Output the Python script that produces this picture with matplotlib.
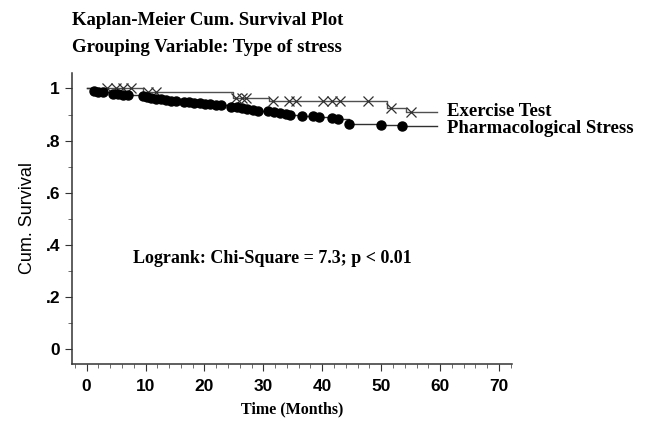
import numpy as np
import matplotlib.pyplot as plt
from matplotlib.ticker import MultipleLocator

# Exercise Test: step drops and censored times
ex_drop_t = [9.5, 24.8, 31.0, 51.0, 54.2]
ex_drop_s = [0.985, 0.965, 0.95, 0.925, 0.908]
ex_cens_t = [3.5, 5.0, 6.2, 7.5, 10.5, 11.8, 25.3, 26.3, 27.0, 31.6, 34.4,
             35.6, 40.2, 41.6, 43.0, 47.7, 51.6, 55.0]
ex_end = 59.5

# Pharmacological Stress: marked steps
ph_t = [1.2, 2.0, 2.8, 4.5, 5.3, 6.2, 7.0, 9.5, 10.3, 11.0, 11.8, 12.6, 13.5,
        14.3, 15.2, 16.5, 17.4, 18.3, 19.2, 20.1, 21.0, 21.9, 22.8, 24.5, 25.5,
        26.4, 27.3, 28.2, 29.1, 30.8, 31.8, 32.8, 33.8, 34.6, 36.5, 38.5, 39.5,
        41.6, 42.6, 44.5, 50.0, 53.5]
ph_s = [0.99, 0.987, 0.985, 0.98, 0.978, 0.976, 0.974, 0.97, 0.967, 0.964,
        0.961, 0.958, 0.955, 0.953, 0.951, 0.949, 0.947, 0.945, 0.943, 0.941,
        0.939, 0.937, 0.935, 0.93, 0.927, 0.924, 0.921, 0.918, 0.915, 0.912,
        0.909, 0.906, 0.903, 0.9, 0.896, 0.893, 0.89, 0.886, 0.882, 0.865,
        0.858, 0.855]
ph_end = 59.5

xticks = [0, 10, 20, 30, 40, 50, 60, 70]
yticks = [0, 0.2, 0.4, 0.6, 0.8, 1.0]
ytick_labels = ['0', '.2', '.4', '.6', '.8', '1']

serif = 'Liberation Serif'
sans = 'Liberation Sans'

fig = plt.figure(figsize=(6.48, 4.21), dpi=100)
ax = fig.add_axes([0.111, 0.135, 0.679, 0.692])

# exercise curve
ex_x = np.r_[0, ex_drop_t, ex_end]
ex_y = np.r_[1.0, ex_drop_s, ex_drop_s[-1]]
ax.step(ex_x, ex_y, where='post', color='#505050', lw=1.0, clip_on=False)
idx = np.searchsorted(ex_x, ex_cens_t, side='right') - 1
ax.plot(ex_cens_t, ex_y[idx], 'x', color='#303030', ms=7.5, mew=0.9,
        clip_on=False)

# pharmacological curve
ph_x = np.r_[0, ph_t, ph_end]
ph_y = np.r_[1.0, ph_s, ph_s[-1]]
ax.step(ph_x, ph_y, where='post', color='#303030', lw=1.0, clip_on=False)
ax.plot(ph_t, ph_s, 'o', color='black', ms=6.5, clip_on=False)

ax.set_xlim(-2.5, 72.2)
ax.set_ylim(-0.058, 1.06)
ax.set_xticks(xticks)
ax.set_yticks(yticks)
ax.set_yticklabels(ytick_labels)
ax.xaxis.set_minor_locator(MultipleLocator(2))
ax.yaxis.set_minor_locator(MultipleLocator(0.1))
for s in ['top', 'right']:
    ax.spines[s].set_visible(False)
for s in ['left', 'bottom']:
    ax.spines[s].set_color('#333333')
    ax.spines[s].set_linewidth(1.1)
ax.tick_params(which='major', direction='out', length=5, color='#333333',
               labelsize=12.5)
ax.tick_params(axis='x', which='major', pad=6)
ax.tick_params(which='minor', direction='out', length=3, color='#555555')
for lab in ax.get_xticklabels() + ax.get_yticklabels():
    lab.set_fontfamily(sans)
    lab.set_fontweight('bold')

ax.set_xlabel('Time (Months)', fontfamily=serif, fontweight='bold',
              fontsize=11.5, labelpad=5)
ax.set_ylabel('Cum. Survival', fontfamily=sans, fontsize=13, labelpad=7)

fig.text(0.111, 0.952, 'Kaplan-Meier Cum. Survival Plot', fontfamily=serif,
         fontweight='bold', fontsize=13.5, va='center')
fig.text(0.111, 0.888, 'Grouping Variable: Type of stress', fontfamily=serif,
         fontweight='bold', fontsize=13.5, va='center')

fig.text(0.69, 0.734, 'Exercise Test', fontfamily=serif, fontweight='bold',
         fontsize=13.5, va='center')
fig.text(0.69, 0.694, 'Pharmacological Stress', fontfamily=serif,
         fontweight='bold', fontsize=13.5, va='center')

ax.text(0.205, 0.387, 'Logrank: Chi-Square = 7.3; p < 0.01',
        transform=fig.transFigure, fontfamily=serif, fontweight='bold',
        fontsize=13, va='center')

fig.savefig('out.png', dpi=100)
